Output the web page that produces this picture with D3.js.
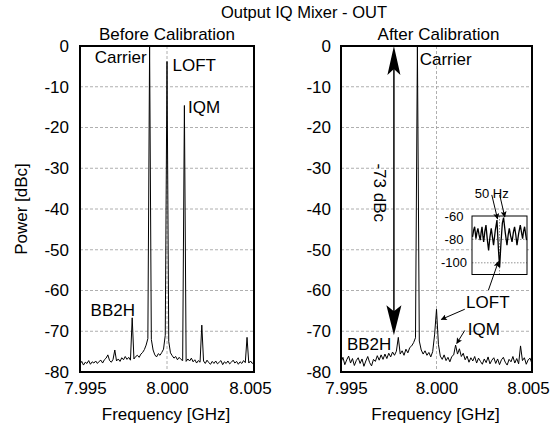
<!DOCTYPE html>
<html>
<head>
<meta charset="utf-8">
<script src="https://cdn.jsdelivr.net/npm/d3@7"></script>
<style>
  body { margin: 0; background: #fff; }
  svg { display: block; font-family: "Liberation Sans", Arial, Helvetica, sans-serif; }
</style>
</head>
<body>
<svg id="chart"></svg>
<script>
const width = 551;
const height = 427;

// Sweep grid shared by both spectra [GHz]
const sweepFreqs = [
  7.9950, 7.9951, 7.9952, 7.9953, 7.9954, 7.9955, 7.9956, 7.9957, 7.9958, 7.9959,
  7.9960, 7.9961, 7.9962, 7.9963, 7.9964, 7.9965, 7.9966, 7.9967, 7.9968, 7.9969,
  7.9970, 7.9971, 7.9972, 7.9973, 7.9974, 7.9975, 7.9976, 7.9977, 7.9978, 7.9979,
  7.9980, 7.9981, 7.9982, 7.9983, 7.9984, 7.9985, 7.9986, 7.9987, 7.9988, 7.9989,
  7.9990, 7.9991, 7.9992, 7.9993, 7.9994, 7.9995, 7.9996, 7.9997, 7.9998, 7.9999,
  8.0000, 8.0001, 8.0002, 8.0003, 8.0004, 8.0005, 8.0006, 8.0007, 8.0008, 8.0009,
  8.0010, 8.0011, 8.0012, 8.0013, 8.0014, 8.0015, 8.0016, 8.0017, 8.0018, 8.0019,
  8.0020, 8.0021, 8.0022, 8.0023, 8.0024, 8.0025, 8.0026, 8.0027, 8.0028, 8.0029,
  8.0030, 8.0031, 8.0032, 8.0033, 8.0034, 8.0035, 8.0036, 8.0037, 8.0038, 8.0039,
  8.0040, 8.0041, 8.0042, 8.0043, 8.0044, 8.0045, 8.0046, 8.0047, 8.0048, 8.0049,
  8.0050
];

// Power [dBc] before calibration
const beforePower = [
  -78.0, -77.4, -78.3, -77.6, -77.9, -77.2, -78.1, -77.5, -77.8, -77.3,
  -77.9, -77.4, -77.1, -77.8, -77.0, -76.6, -75.8, -77.2, -77.6, -76.9,
  -74.6, -77.3, -76.8, -77.4, -76.5, -77.0, -76.2, -76.9, -76.4, -77.1,
  -66.7, -76.8, -76.2, -75.9, -76.4, -75.6, -75.2, -74.5, -73.4, -71.8,
  0.0, -72.0, -74.6, -75.8, -76.3, -75.5, -75.9, -75.2, -74.4, -71.0,
  -3.8, -72.5, -75.3, -76.0, -76.6, -76.2, -77.0, -76.4, -76.9, -77.2,
  -14.6, -77.4, -76.8, -77.3, -76.6, -77.5, -77.0, -77.8, -77.2, -77.6,
  -68.5, -77.3, -77.9, -77.1, -77.7, -78.1, -77.4, -77.9, -77.3, -78.0,
  -77.6, -77.2, -78.2, -77.5, -77.9, -77.3, -78.0, -77.6, -77.1, -77.8,
  -77.4, -78.1, -77.5, -77.9, -77.2, -77.7, -71.5, -77.8, -77.3, -77.9,
  -77.5
];

// Power [dBc] after calibration
const afterPower = [
  -77.6, -76.4, -78.2, -77.0, -76.1, -77.8, -76.7, -78.4, -77.2, -76.5,
  -77.9, -76.8, -78.6, -77.3, -76.2, -77.7, -78.5, -76.9, -77.4, -76.0,
  -77.1, -75.8, -76.9, -75.6, -76.7, -75.4, -76.3, -75.1, -75.9, -74.9,
  -71.5, -75.6, -74.8, -75.9, -74.4, -75.3, -74.0, -73.6, -72.8, -71.6,
  0.0, -72.4, -74.6, -75.6, -74.8, -75.9, -75.2, -76.3, -75.0, -70.9,
  -64.6, -73.2, -76.1, -76.9, -75.8, -77.2, -76.4, -77.5, -76.2, -75.8,
  -73.4, -75.6, -74.3, -76.2, -75.4, -77.0, -76.1, -77.6, -76.5, -77.3,
  -76.2, -77.8, -76.6, -77.4, -78.1, -76.8, -77.7, -76.3, -78.0, -77.1,
  -76.5, -77.9, -76.8, -78.2, -77.0, -76.4, -77.6, -78.3, -76.9, -77.5,
  -76.2, -77.8, -76.7, -78.0, -73.6, -77.2, -76.5, -78.1, -77.0, -76.6,
  -78.0
];

// Inset: zoom around LOFT, offset [Hz] and power [dBc]
const insetOffsetHz = [
  -245, -235, -226, -214, -205, -196, -186, -175, -167, -159,
  -151, -144, -133, -123, -111, -99, -87, -75, -64, -54,
  -38, -23, -10, 1, 14, 26, 37, 52, 68, 79,
  89, 101, 114, 126, 137, 148, 159, 174, 189, 200,
  210, 219, 228, 237, 246
];
const insetPower = [
  -77.8, -72.0, -69.2, -79.3, -74.0, -70.6, -76.0, -80.7, -74.0, -69.2,
  -77.0, -82.2, -73.0, -67.8, -80.0, -89.4, -78.0, -70.6, -78.0, -85.0,
  -72.0, -63.5, -88.0, -104.0, -82.0, -66.0, -61.4, -74.0, -85.0, -76.0,
  -70.6, -77.0, -82.2, -74.0, -69.2, -76.0, -85.0, -75.0, -67.8, -74.0,
  -79.3, -73.0, -69.2, -75.0, -80.7
];

const powerTicks = [0, -10, -20, -30, -40, -50, -60, -70, -80];
const freqTicks = [7.995, 8.000, 8.005];
const insetTicks = [-60, -80, -100];

// Suppression arrow after calibration [dBc]
const suppressionTop = 0;
const suppressionBottom = -71;

const svg = d3.select("#chart")
  .attr("width", width)
  .attr("height", height)
  .attr("viewBox", `0 0 ${width} ${height}`);

const fontSize = 17;
const gridColor = "#9a9a9a";

const defs = svg.append("defs");
defs.append("marker")
  .attr("id", "head")
  .attr("viewBox", "0 0 10 10")
  .attr("refX", 9)
  .attr("refY", 5)
  .attr("markerWidth", 8)
  .attr("markerHeight", 6)
  .attr("markerUnits", "userSpaceOnUse")
  .attr("orient", "auto")
  .append("path")
  .attr("d", "M0,0 L10,5 L0,10 L2,5 Z")
  .attr("fill", "#000");

// Main title
svg.append("text")
  .attr("x", 304)
  .attr("y", 18)
  .attr("text-anchor", "middle")
  .style("font-size", "16.5px")
  .text("Output IQ Mixer - OUT");

// Y axis label
svg.append("text")
  .attr("transform", "translate(27,209) rotate(-90)")
  .attr("text-anchor", "middle")
  .style("font-size", fontSize + "px")
  .text("Power [dBc]");

function drawPanel(opts) {
  const x = d3.scaleLinear().domain([7.995, 8.005]).range(opts.xRange);
  const y = d3.scaleLinear().domain([-80, 0]).range([372, 46]);
  const g = svg.append("g");
  const clipId = opts.id + "-clip";

  defs.append("clipPath").attr("id", clipId)
    .append("rect")
    .attr("x", opts.xRange[0]).attr("y", 46)
    .attr("width", opts.xRange[1] - opts.xRange[0]).attr("height", 326);

  // horizontal grid
  g.selectAll(".hgrid")
    .data(powerTicks.filter(d => d !== 0 && d !== -80))
    .enter().append("line")
    .attr("x1", opts.xRange[0]).attr("x2", opts.xRange[1])
    .attr("y1", d => y(d)).attr("y2", d => y(d))
    .attr("stroke", gridColor)
    .attr("stroke-width", 0.8)
    .attr("stroke-dasharray", "3,2");

  // vertical grid at centre frequency
  g.append("line")
    .attr("x1", x(8.000)).attr("x2", x(8.000))
    .attr("y1", 46).attr("y2", 372)
    .attr("stroke", gridColor)
    .attr("stroke-width", 0.8)
    .attr("stroke-dasharray", "3,2");

  const line = d3.line().x(d => x(d[0])).y(d => y(d[1]));
  g.append("path")
    .datum(d3.zip(sweepFreqs, opts.power))
    .attr("clip-path", `url(#${clipId})`)
    .attr("d", line)
    .attr("fill", "none")
    .attr("stroke", "#000")
    .attr("stroke-width", 1)
    .attr("stroke-linejoin", "miter");

  // frame
  g.append("rect")
    .attr("x", opts.xRange[0]).attr("y", 46)
    .attr("width", opts.xRange[1] - opts.xRange[0]).attr("height", 326)
    .attr("fill", "none")
    .attr("stroke", "#000")
    .attr("stroke-width", 2);

  // axes
  const yAxis = g.append("g")
    .attr("transform", `translate(${opts.xRange[0]},0)`)
    .call(d3.axisLeft(y).tickValues(powerTicks).tickSize(0).tickPadding(opts.yPad).tickFormat(d => String(d)));
  yAxis.select(".domain").remove();

  const xAxis = g.append("g")
    .attr("transform", "translate(0,372)")
    .call(d3.axisBottom(x).tickValues(freqTicks).tickSize(0).tickPadding(10).tickFormat(d3.format(".3f")));
  xAxis.select(".domain").remove();
  // end labels sit slightly inside the frame, as in the original figure
  xAxis.selectAll(".tick text")
    .attr("dx", (d, i) => i === 0 ? 5 : (i === freqTicks.length - 1 ? -4 : 0));

  g.selectAll(".tick text")
    .attr("font-family", null)
    .attr("fill", "#000")
    .style("font-size", fontSize + "px");

  // panel title and x label
  const cx = (opts.xRange[0] + opts.xRange[1]) / 2;
  g.append("text")
    .attr("x", cx + opts.titleShift).attr("y", 40)
    .attr("text-anchor", "middle")
    .style("font-size", fontSize + "px")
    .text(opts.title);
  g.append("text")
    .attr("x", cx - 1).attr("y", 420)
    .attr("text-anchor", "middle")
    .style("font-size", fontSize + "px")
    .text("Frequency [GHz]");

  return { g, x, y };
}

function label(g, px, py, txt, anchor) {
  g.append("text")
    .attr("x", px).attr("y", py)
    .attr("text-anchor", anchor || "start")
    .style("font-size", fontSize + "px")
    .text(txt);
}

function arrow(g, x1, y1, x2, y2) {
  g.append("line")
    .attr("x1", x1).attr("y1", y1).attr("x2", x2).attr("y2", y2)
    .attr("stroke", "#000")
    .attr("stroke-width", 1)
    .attr("marker-end", "url(#head)");
}

// --- Before calibration ---
const left = drawPanel({ id: "before", xRange: [80, 254], power: beforePower, yPad: 11, title: "Before Calibration", titleShift: 0 });
label(left.g, left.x(7.99883), left.y(-4.2), "Carrier", "end");
label(left.g, left.x(8.00032), left.y(-6.1), "LOFT");
label(left.g, left.x(8.00121), left.y(-16.5), "IQM");
label(left.g, left.x(7.99561), left.y(-66.3), "BB2H");

// --- After calibration ---
const right = drawPanel({ id: "after", xRange: [341, 532], power: afterPower, yPad: 10, title: "After Calibration", titleShift: 2 });
label(right.g, right.x(7.99912), right.y(-4.7), "Carrier");
label(right.g, right.x(8.00155), right.y(-64.3), "LOFT");
label(right.g, right.x(8.00164), right.y(-70.9), "IQM");
label(right.g, right.x(7.99531), right.y(-74.6), "BB2H");

arrow(right.g, right.x(8.00148), right.y(-64.6), right.x(8.00025), right.y(-67.1));
arrow(right.g, right.x(8.00148), right.y(-69.8), right.x(8.00106), right.y(-73.0));

// Double-headed suppression arrow
const ax = right.x(7.99777);
const yTop = right.y(suppressionTop);
const yBot = right.y(suppressionBottom);
right.g.append("line")
  .attr("x1", ax).attr("x2", ax)
  .attr("y1", yTop + 20).attr("y2", yBot - 20)
  .attr("stroke", "#000")
  .attr("stroke-width", 1.5);
right.g.append("path")
  .attr("d", `M${ax},${yTop} L${ax + 6.5},${yTop + 29} L${ax},${yTop + 23} L${ax - 6.5},${yTop + 29} Z`)
  .attr("fill", "#000");
right.g.append("path")
  .attr("d", `M${ax},${yBot} L${ax + 7.5},${yBot - 30} L${ax},${yBot - 24} L${ax - 7.5},${yBot - 30} Z`)
  .attr("fill", "#000");
right.g.append("text")
  .attr("transform", `translate(${right.x(7.99706)},${right.y(-36)}) rotate(90)`)
  .attr("text-anchor", "middle")
  .attr("dy", "0.35em")
  .style("font-size", fontSize + "px")
  .text("-73 dBc");

// --- Inset around LOFT ---
const ix = d3.scaleLinear().domain([-250, 250]).range([472, 527]);
const iy = d3.scaleLinear().domain([-110, -60]).range([274.5, 216]);
const inset = svg.append("g");

inset.append("rect")
  .attr("x", 472).attr("y", 216)
  .attr("width", 55).attr("height", 58.5)
  .attr("fill", "#fff");

inset.selectAll(".igrid")
  .data([-80, -100])
  .enter().append("line")
  .attr("x1", 472).attr("x2", 527)
  .attr("y1", d => iy(d)).attr("y2", d => iy(d))
  .attr("stroke", "#777")
  .attr("stroke-width", 0.8)
  .attr("stroke-dasharray", "1.5,1.5");
inset.append("line")
  .attr("x1", ix(0)).attr("x2", ix(0))
  .attr("y1", 216).attr("y2", 274.5)
  .attr("stroke", "#777")
  .attr("stroke-width", 0.8)
  .attr("stroke-dasharray", "1.5,1.5");

inset.append("path")
  .datum(d3.zip(insetOffsetHz, insetPower))
  .attr("d", d3.line().x(d => ix(d[0])).y(d => iy(d[1])))
  .attr("fill", "none")
  .attr("stroke", "#000")
  .attr("stroke-width", 1.3);

inset.append("rect")
  .attr("x", 472).attr("y", 216)
  .attr("width", 55).attr("height", 58.5)
  .attr("fill", "none")
  .attr("stroke", "#000")
  .attr("stroke-width", 1);

inset.selectAll(".itick")
  .data(insetTicks)
  .enter().append("text")
  .attr("x", 454)
  .attr("y", d => iy(d))
  .attr("dy", "0.35em")
  .attr("text-anchor", "middle")
  .style("font-size", "13px")
  .text(d => String(d));

inset.append("text")
  .attr("x", ix(-225)).attr("y", iy(-44.6))
  .style("font-size", "13px")
  .text("50 Hz");

arrow(inset, ix(-70), iy(-42), ix(-18), iy(-62.5));
arrow(inset, ix(2), iy(-42), ix(48), iy(-60.8));

// LOFT label pointing up into the inset
arrow(inset, right.x(8.00272), right.y(-59.9), right.x(8.00324), right.y(-52.9));
</script>
</body>
</html>
